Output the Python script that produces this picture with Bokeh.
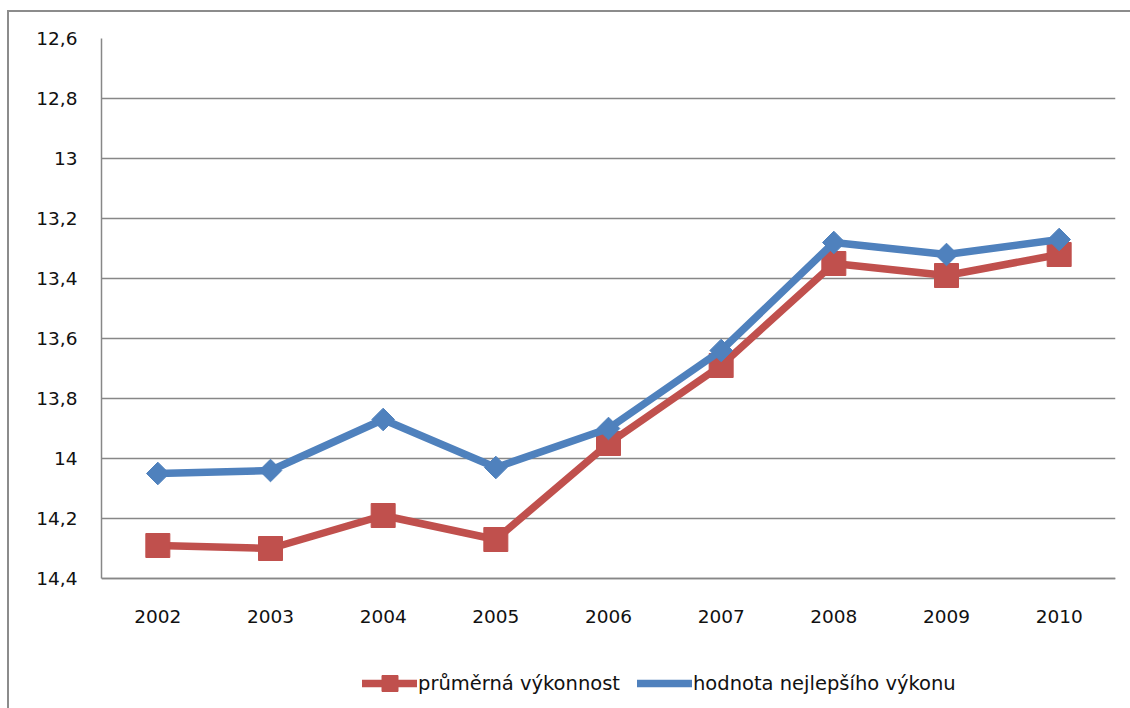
import math

from bokeh.embed import file_html
from bokeh.resources import INLINE
from bokeh.plotting import figure
from bokeh.models import (ColumnDataSource, FactorRange, Range1d, FixedTicker,
                          Legend, LegendItem, InlineStyleSheet)

# Years on the category axis
years = ["2002", "2003", "2004", "2005", "2006", "2007", "2008", "2009", "2010"]

# Average performance and best performance per year
prumerna_vykonnost = [14.29, 14.30, 14.19, 14.27, 13.95, 13.69, 13.35, 13.39, 13.32]
nejlepsi_vykon = [14.05, 14.04, 13.87, 14.03, 13.90, 13.64, 13.28, 13.32, 13.27]

# Value axis ticks (Czech decimal comma)
y_ticks = [12.6, 12.8, 13.0, 13.2, 13.4, 13.6, 13.8, 14.0, 14.2, 14.4]
y_tick_labels = ["12,6", "12,8", "13", "13,2", "13,4", "13,6", "13,8", "14", "14,2", "14,4"]

series_names = ["průměrná výkonnost", "hodnota nejlepšího výkonu"]

RED = "#C0504D"
BLUE = "#4F81BD"
GRID = "#878787"
FONT = "DejaVu Sans"

# The frame runs down to the bottom edge so the legend below the axis stays
# inside it; the category axis is pinned to the last value tick.
LEGEND_ROOM = 130 / 300.0   # extra value units below 14,4 (300 px per unit)

src = ColumnDataSource(dict(year=years, avg=prumerna_vykonnost, best=nejlepsi_vykon))

p = figure(
    width=1130, height=708,
    x_range=FactorRange(*years),
    y_range=Range1d(start=y_ticks[-1] + LEGEND_ROOM, end=y_ticks[0]),  # reversed axis
    output_backend="svg", toolbar_location=None,
    min_border_left=101, min_border_right=15,
    min_border_top=38, min_border_bottom=0,
)
p.outline_line_color = None
p.background_fill_color = "white"
p.border_fill_color = "white"

# Chart-area border along the left and top edges
p.stylesheets = [InlineStyleSheet(css="""
:host { position: relative; }
:host::after {
  content: ""; position: absolute; left: 7px; top: 10px; right: 0; bottom: 0;
  border-left: 2.5px solid #8c8c8c; border-top: 2.5px solid #8c8c8c;
  pointer-events: none; z-index: 10;
}
""")]

# Axes
p.yaxis.ticker = FixedTicker(ticks=y_ticks)
p.yaxis.major_label_overrides = {t: lab for t, lab in zip(y_ticks, y_tick_labels)}
p.yaxis.bounds = (y_ticks[0], y_ticks[-1])
p.xaxis.fixed_location = y_ticks[-1]
for ax in (p.xaxis, p.yaxis):
    ax.axis_line_color = GRID
    ax.axis_line_width = 1.5
    ax.major_tick_line_color = None
    ax.minor_tick_line_color = None
    ax.major_tick_out = 0
    ax.major_tick_in = 0
    ax.major_label_text_font = FONT
    ax.major_label_text_font_size = "18.5px"
    ax.major_label_text_color = "#111111"
p.yaxis.major_label_standoff = 24
p.xaxis.major_label_standoff = 31

p.xgrid.grid_line_color = None
p.ygrid.ticker = FixedTicker(ticks=y_ticks)
p.ygrid.grid_line_color = GRID
p.ygrid.grid_line_width = 1.4

# Series: average (red squares) below, best (blue diamonds) on top
r_avg_line = p.line("year", "avg", source=src, line_color=RED, line_width=7.5,
                    line_join="round", line_cap="round")
r_avg_pts = p.scatter("year", "avg", source=src, marker="square", size=24,
                      fill_color=RED, line_color=RED)
r_best_line = p.line("year", "best", source=src, line_color=BLUE, line_width=7.5,
                     line_join="round", line_cap="round")
r_best_pts = p.scatter("year", "best", source=src, marker="square", angle=math.pi / 4,
                       size=16, fill_color=BLUE, line_color=BLUE)

legend = Legend(
    items=[
        LegendItem(label=series_names[0], renderers=[r_avg_line, r_avg_pts]),
        LegendItem(label=series_names[1], renderers=[r_best_line]),
    ],
    orientation="horizontal",
    location=(261, 5),
    glyph_width=55, glyph_height=40,
    label_height=40, label_standoff=1, spacing=17,
    padding=0, margin=0,
    border_line_color=None, background_fill_alpha=0,
    label_text_font=FONT, label_text_font_size="19.5px", label_text_color="#111111",
)
p.add_layout(legend, "center")

open("out.html", "w").write(file_html(p, INLINE))
